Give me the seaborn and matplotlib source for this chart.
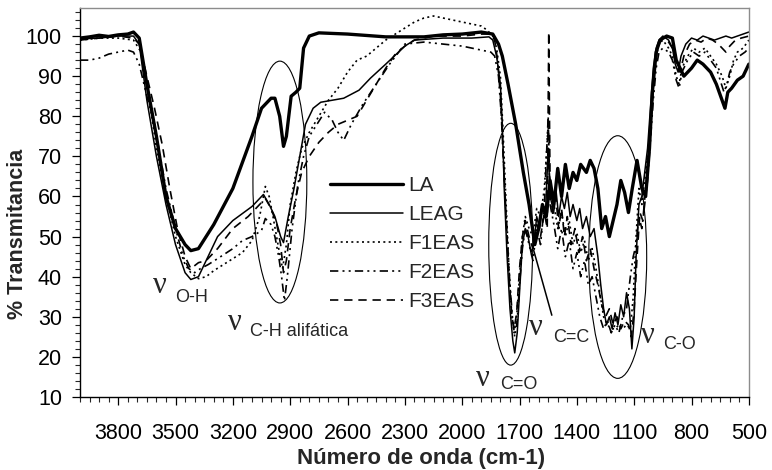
import numpy as np
import pandas as pd
import seaborn as sns
import matplotlib
matplotlib.use('Agg')
import matplotlib.pyplot as plt
from matplotlib.patches import Ellipse
from matplotlib.ticker import MultipleLocator

# Espectros FTIR (numero de onda cm-1, % transmitancia)
la_wn = [4000, 3950, 3900, 3850, 3800, 3750, 3720, 3690, 3650, 3600, 3550, 3500, 3450, 3420,
         3380, 3300, 3200, 3100, 3050, 3000, 2980, 2955, 2935, 2920, 2895, 2870, 2850, 2830,
         2800, 2750, 2600, 2400, 2200, 2100, 2000, 1900, 1840, 1810, 1790, 1760, 1720, 1680,
         1650, 1620, 1600, 1580, 1560, 1540, 1520, 1500, 1480, 1460, 1440, 1420, 1400, 1380,
         1350, 1330, 1310, 1290, 1270, 1250, 1230, 1210, 1190, 1170, 1150, 1130, 1110, 1085,
         1060, 1040, 1020, 1005, 985, 965, 930, 900, 880, 860, 840, 800, 770, 740, 700, 670,
         640, 625, 610, 590, 560, 530, 500]
la_t = [99.5, 99.8, 100.2, 99.9, 100.3, 100.5, 101, 99.5, 88, 75, 60, 52, 48, 46.5,
        47, 53, 62, 75, 82, 84.5, 84.5, 80, 72.5, 75, 85, 86, 87, 97,
        100, 100.8, 100.5, 99.8, 99.8, 100.3, 100.5, 101, 100.5, 98, 95, 88, 78, 66,
        58, 48, 52, 58, 55, 64, 58, 67, 60, 68, 62, 66, 64, 68,
        66, 69, 67, 62, 52, 55, 50, 54, 58, 64, 61, 56, 62, 69,
        62, 60, 72, 86, 96, 99, 100, 99.5, 94, 92, 90, 92, 94, 93, 91, 88,
        84, 82, 86, 87, 89, 90, 93]

leag_wn = [4000, 3900, 3800, 3720, 3690, 3650, 3600, 3550, 3500, 3450, 3420, 3380, 3340, 3280,
           3200, 3100, 3040, 3010, 2980, 2950, 2935, 2910, 2880, 2850, 2820, 2780, 2740, 2680,
           2620, 2540, 2480, 2400, 2300, 2250, 2100, 1950, 1860, 1840, 1820, 1800, 1790, 1780,
           1765, 1750, 1735, 1725, 1712, 1700, 1685, 1670, 1655, 1640, 1625, 1610, 1595, 1580,
           1565, 1550, 1540, 1525, 1510, 1495, 1480, 1465, 1450, 1435, 1420, 1400, 1385, 1370,
           1350, 1330, 1310, 1290, 1275, 1260, 1245, 1230, 1215, 1200, 1185, 1170, 1155, 1140,
           1125, 1112, 1100, 1090, 1075, 1060, 1045, 1030, 1015, 1000, 985, 970, 950, 920, 900,
           885, 870, 855, 830, 800, 770, 740, 710, 680, 650, 620, 590, 560, 530, 500]
leag_t = [99.3, 99.5, 100, 100, 98, 84, 70, 58, 48, 41, 39.3, 40, 44, 50,
          54, 57.5, 60.5, 58, 55, 50, 48.5, 55, 62, 70, 78, 82, 83.5, 84,
          84.5, 86.5, 89.5, 93, 97.5, 99, 99.5, 99.5, 99.8, 99, 95, 88, 78, 62,
          45, 32, 24, 21, 26, 36, 48, 52, 50, 46, 48, 55, 52, 58,
          55, 72, 60, 57, 62, 55, 60, 57, 61, 55, 58, 54, 57, 52,
          55, 50, 52, 45, 38, 32, 28, 30, 27, 31, 28, 33, 30, 36,
          32, 22, 30, 45, 58, 60, 66, 72, 82, 92, 97, 99, 100, 99, 97,
          93, 91, 95, 98, 99.5, 99, 100, 99.5, 99, 99.5, 100, 99.5, 100, 100.5, 101]

f1_wn = [4000, 3900, 3800, 3720, 3680, 3640, 3600, 3550, 3500, 3450, 3420, 3380, 3340, 3300,
         3250, 3200, 3150, 3100, 3060, 3030, 3010, 2990, 2960, 2940, 2920, 2900, 2870, 2840,
         2800, 2750, 2700, 2650, 2600, 2550, 2500, 2450, 2400, 2350, 2300, 2250, 2200, 2150,
         2100, 2050, 2000, 1950, 1900, 1870, 1840, 1820, 1800, 1785, 1770, 1755, 1740, 1728,
         1715, 1700, 1685, 1670, 1650, 1630, 1610, 1590, 1570, 1550, 1540, 1520, 1500, 1480,
         1460, 1440, 1420, 1400, 1380, 1360, 1340, 1320, 1300, 1280, 1260, 1240, 1220, 1200,
         1180, 1160, 1140, 1120, 1105, 1090, 1075, 1060, 1045, 1030, 1015, 1000, 985, 970,
         950, 920, 900, 880, 865, 850, 820, 790, 760, 730, 700, 670, 640, 620, 600, 580,
         560, 530, 500]
f1_t = [99, 99.5, 99.5, 99, 96, 85, 72, 60, 50, 43, 41, 39.5, 40, 41.5,
        43, 44.5, 46, 49, 55, 62.5, 60, 55, 47, 42, 48, 58, 66, 72,
        76, 80, 84, 87, 91, 94, 95, 97, 99, 100.5, 102, 103.5, 104.5, 105,
        104.5, 104, 103.5, 103, 102.5, 101.5, 100, 97, 90, 75, 58, 42, 30, 26,
        30, 40, 50, 55, 52, 50, 57, 55, 62, 78, 62, 58, 52, 56,
        50, 54, 48, 51, 46, 49, 44, 47, 42, 36, 30, 28, 27, 27,
        28, 27, 28, 27, 35, 50, 62, 58, 64, 70, 78, 88, 95, 98,
        99, 97, 95, 90, 88, 92, 95, 97, 96, 97, 95, 93, 90, 87, 90, 94,
        96, 97, 99]

f2_wn = [4000, 3950, 3900, 3850, 3800, 3750, 3720, 3690, 3650, 3610, 3580, 3550, 3500, 3460,
         3430, 3400, 3370, 3330, 3280, 3200, 3150, 3100, 3050, 3030, 3000, 2980, 2960, 2945,
         2930, 2915, 2890, 2860, 2830, 2800, 2760, 2720, 2680, 2650, 2620, 2580, 2520, 2450,
         2380, 2300, 2200, 2100, 2000, 1900, 1850, 1830, 1810, 1795, 1780, 1765, 1750, 1737,
         1725, 1712, 1700, 1685, 1670, 1650, 1630, 1610, 1590, 1570, 1550, 1540, 1520, 1500,
         1480, 1460, 1440, 1420, 1400, 1380, 1360, 1340, 1320, 1300, 1280, 1260, 1240, 1220,
         1200, 1180, 1160, 1140, 1120, 1105, 1090, 1075, 1060, 1045, 1030, 1015, 1000, 985,
         970, 950, 920, 900, 880, 865, 850, 820, 790, 760, 730, 700, 670, 650, 630, 615,
         600, 580, 550, 520, 500]
f2_t = [94, 94, 94.5, 95.5, 96, 96.5, 96, 93, 85, 78, 70, 62, 52, 45,
        42, 41, 42, 43, 44.5, 47, 49, 50, 51.5, 54.5, 53, 50, 45, 40,
        34, 40, 52, 63, 70, 75, 78, 81, 79, 76, 74, 78, 83, 88,
        93, 98, 98.5, 98, 97.5, 96.5, 96, 95, 90, 80, 65, 50, 38, 30,
        25, 29, 38, 47, 52, 48, 44, 52, 48, 58, 80, 58, 53, 47,
        52, 45, 49, 42, 46, 40, 44, 38, 40, 35, 30, 27, 29, 26,
        28, 26, 30, 32, 40, 45, 48, 55, 52, 58, 64, 74, 84, 92,
        96, 97, 96, 94, 89, 87, 91, 94, 96, 95, 96, 94, 92, 89, 86, 88,
        91, 93, 95, 96, 97]

f3_wn = [4000, 3900, 3800, 3720, 3690, 3650, 3610, 3570, 3530, 3490, 3450, 3420, 3380, 3340,
         3280, 3200, 3120, 3060, 3030, 3000, 2970, 2950, 2935, 2920, 2900, 2870, 2840, 2800,
         2750, 2700, 2650, 2600, 2550, 2500, 2450, 2400, 2350, 2300, 2250, 2150, 2000, 1900,
         1850, 1830, 1815, 1800, 1785, 1770, 1755, 1740, 1728, 1715, 1700, 1685, 1670, 1650,
         1630, 1610, 1590, 1570, 1555, 1547, 1540, 1525, 1510, 1495, 1480, 1465, 1450, 1430,
         1410, 1390, 1370, 1350, 1330, 1310, 1290, 1270, 1250, 1230, 1210, 1190, 1170, 1150,
         1130, 1115, 1100, 1085, 1070, 1055, 1040, 1025, 1010, 995, 980, 965, 950, 920, 900,
         880, 860, 840, 810, 780, 750, 720, 690, 660, 640, 620, 600, 570, 540, 500]
f3_t = [99, 99.5, 100, 99.5, 98, 90, 82, 73, 62, 52, 45, 42, 43.5, 44,
        47, 52, 55, 58, 59.5, 57, 53, 48, 41, 44, 52, 60, 66, 70,
        73.5, 76, 78, 79, 80, 84, 88, 92, 95.5, 97.5, 99, 100, 100, 100.5,
        100.5, 99, 94, 85, 70, 55, 40, 30, 27, 31, 42, 50, 54, 50,
        47, 53, 50, 56, 52, 101, 62, 55, 60, 52, 57, 50, 55, 48,
        52, 46, 50, 44, 47, 42, 38, 33, 30, 32, 28, 30, 27, 29,
        28, 25, 32, 45, 56, 54, 62, 70, 80, 90, 96, 98.5, 99.5, 98.5, 97,
        93, 91, 95, 98, 99, 98.5, 99.5, 99, 98, 97, 96, 97.5, 99, 99.5, 100]

series_names = ['LA', 'LEAG', 'F1EAS', 'F2EAS', 'F3EAS']
series_wn = [la_wn, leag_wn, f1_wn, f2_wn, f3_wn]
series_t = [la_t, leag_t, f1_t, f2_t, f3_t]

x_ticks = [3800, 3500, 3200, 2900, 2600, 2300, 2000, 1700, 1400, 1100, 800, 500]

# estilos de linea (todas negras)
line_styles = {
    'LA': dict(lw=2.4, ls='-'),
    'LEAG': dict(lw=1.1, ls='-'),
    'F1EAS': dict(lw=1.2, ls=(0, (1.2, 2.0))),
    'F2EAS': dict(lw=1.2, ls=(0, (5, 2.5, 1.2, 2.5, 1.2, 2.5))),
    'F3EAS': dict(lw=1.2, ls=(0, (5, 3.5))),
}

sns.set_style('ticks')
plt.rcParams['font.family'] = ['Liberation Sans', 'DejaVu Sans']

fig, ax = plt.subplots(figsize=(7.72, 4.70), dpi=100)
fig.subplots_adjust(left=0.1036, right=0.970, bottom=0.1553, top=0.983)

for name, wn, t in zip(series_names, series_wn, series_t):
    df = pd.DataFrame({'wn': wn, 't': t})
    st = line_styles[name]
    sns.lineplot(data=df, x='wn', y='t', ax=ax, color='black', lw=st['lw'],
                 linestyle=st['ls'], estimator=None, sort=False, label=name)

# elipses que marcan las bandas
for cx, cy, w, h in [(2954, 63.6, 282, 60.3), (1746, 48.1, 230, 60.3), (1186, 44.9, 303, 60.5)]:
    ax.add_patch(Ellipse((cx, cy), w, h, fill=False, color='black', lw=0.8))

# linea que senala la banda C=C
ax.plot([1531, 1626], [30.4, 46.6], color='black', lw=1.1)

nu_font = dict(family='Liberation Serif', fontsize=22, ha='center', va='center')
sub_font = dict(fontsize=13, ha='left', va='center')
labels = [((3582, 37.9), (3503, 34.9), 'O-H'),
          ((3189, 28.7), (3111, 26.4), 'C-H alifática'),
          ((1892, 14.7), (1803, 13.0), 'C=O'),
          ((1615, 27.4), (1526, 24.9), 'C=C'),
          ((1029, 25.4), (951, 23.2), 'C-O')]
for (nx, ny), (sx, sy), txt in labels:
    ax.text(nx, ny, 'ν', **nu_font)
    ax.text(sx, sy, txt, **sub_font)

ax.set_xlim(4000, 500)
ax.set_ylim(10, 107)
ax.set_xticks(x_ticks)
ax.xaxis.set_minor_locator(MultipleLocator(50))
ax.set_yticks(range(10, 101, 10))
ax.yaxis.set_minor_locator(MultipleLocator(2))
ax.tick_params(axis='both', which='major', direction='out', length=6, width=0.9,
               labelsize=15.5, colors='black')
ax.tick_params(axis='both', which='minor', direction='out', length=3.5, width=0.8)
ax.tick_params(axis='x', which='major', pad=13)
ax.tick_params(axis='y', which='major', pad=7)

for side in ['top', 'right']:
    ax.spines[side].set_color('#8c8c8c')
    ax.spines[side].set_linewidth(1.0)
for side in ['left', 'bottom']:
    ax.spines[side].set_color('black')
    ax.spines[side].set_linewidth(1.0)

ax.set_xlabel('Número de onda (cm-1)', fontsize=16, fontweight='bold')
ax.set_ylabel('% Transmitancia', fontsize=15.5, fontweight='bold')
ax.xaxis.set_label_coords(0.51, -0.132)
ax.yaxis.set_label_coords(-0.077, 0.42)

ax.legend(loc='upper left', bbox_to_anchor=(0.374, 0.567), frameon=False, fontsize=15,
          handlelength=3.5, handletextpad=0.25, labelspacing=0.48, borderpad=0,
          borderaxespad=0)

fig.savefig('out.png', dpi=100)
